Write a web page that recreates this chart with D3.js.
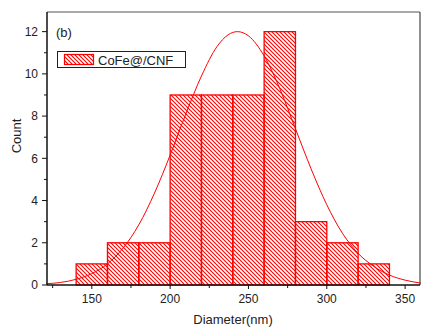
<!DOCTYPE html>
<html>
<head>
<meta charset="utf-8">
<script src="https://cdn.jsdelivr.net/npm/d3@7"></script>
<style>
  body { margin: 0; background: #fff; }
  text { font-family: "Liberation Sans", Arial, sans-serif; fill: #222; }
</style>
</head>
<body>
<div id="container"></div>
<script>
// histogram bins (nm) and counts
const binStarts = [140, 160, 180, 200, 220, 240, 260, 280, 300, 320];
const binWidth = 20;
const counts = [1, 2, 2, 9, 9, 9, 12, 3, 2, 1];

// fitted curve
const curveX = [121, 130, 140, 150, 160, 170, 180, 190, 200, 210, 220, 230, 237, 243, 250, 260, 270, 280, 290, 300, 310, 320, 330, 340, 350, 360];
const curveY = [0.06, 0.12, 0.27, 0.54, 1.0, 1.75, 2.85, 4.35, 6.15, 8.1, 9.9, 11.3, 11.85, 12.0, 11.8, 10.85, 9.3, 7.4, 5.5, 3.8, 2.45, 1.5, 0.88, 0.47, 0.23, 0.09];

const xTicks = [150, 200, 250, 300, 350];
const xMinor = [125, 175, 225, 275, 325];
const yTicks = [0, 2, 4, 6, 8, 10, 12];
const yMinor = [1, 3, 5, 7, 9, 11];

const W = 422, H = 330;
const margin = { left: 47, top: 12, right: 2, bottom: 45 };
const red = '#ff0000';

const svg = d3.select('#container').append('svg')
  .attr('width', W).attr('height', H);

// hatch pattern (\\\)
const defs = svg.append('defs');
const pat = defs.append('pattern')
  .attr('id', 'hatch')
  .attr('patternUnits', 'userSpaceOnUse')
  .attr('width', 4).attr('height', 4);
pat.append('path')
  .attr('d', 'M-1,-1L5,5M-1,3L1,5M3,-1L5,1')
  .attr('stroke', red).attr('stroke-width', 1.1);

const x = d3.scaleLinear().domain([121.4, 359.5]).range([margin.left, W - margin.right]);
const y = d3.scaleLinear().domain([0, 12.93]).range([H - margin.bottom, margin.top]);

const g = svg.append('g');

// bars
g.selectAll('.bar')
  .data(binStarts)
  .join('rect')
  .attr('class', 'bar')
  .attr('x', d => x(d))
  .attr('width', d => x(d + binWidth) - x(d))
  .attr('y', (d, i) => y(counts[i]))
  .attr('height', (d, i) => y(0) - y(counts[i]))
  .attr('fill', 'url(#hatch)')
  .attr('stroke', red)
  .attr('stroke-width', 1.3);

// fit curve
const pts = curveX.map((v, i) => [v, curveY[i]]);
g.append('path')
  .datum(pts)
  .attr('fill', 'none')
  .attr('stroke', red)
  .attr('stroke-width', 1)
  .attr('d', d3.line().x(d => x(d[0])).y(d => y(d[1])).curve(d3.curveMonotoneX));

// frame
svg.append('line')
  .attr('x1', margin.left).attr('x2', W - margin.right)
  .attr('y1', margin.top).attr('y2', margin.top)
  .attr('stroke', '#555').attr('stroke-width', 1);
svg.append('line')
  .attr('x1', W - margin.right).attr('x2', W - margin.right)
  .attr('y1', margin.top).attr('y2', H - margin.bottom)
  .attr('stroke', '#222').attr('stroke-width', 1);

// y axis
const yAxis = svg.append('g').attr('transform', `translate(${margin.left},0)`);
yAxis.append('line')
  .attr('x1', 0).attr('x2', 0).attr('y1', margin.top).attr('y2', H - margin.bottom)
  .attr('stroke', '#111').attr('stroke-width', 1.5);
yAxis.selectAll('.ymaj').data(yTicks).join('line')
  .attr('x1', -5).attr('x2', 0).attr('y1', d => y(d)).attr('y2', d => y(d))
  .attr('stroke', '#111').attr('stroke-width', 1);
yAxis.selectAll('.ymin').data(yMinor).join('line')
  .attr('x1', -3).attr('x2', 0).attr('y1', d => y(d)).attr('y2', d => y(d))
  .attr('stroke', '#111').attr('stroke-width', 1);
yAxis.selectAll('.ylab').data(yTicks).join('text')
  .attr('x', -9).attr('y', d => y(d)).attr('dy', '0.36em')
  .attr('text-anchor', 'end').attr('font-size', 12)
  .text(d => d);

// x axis
const xAxis = svg.append('g').attr('transform', `translate(0,${H - margin.bottom})`);
xAxis.append('line')
  .attr('x1', margin.left).attr('x2', W - margin.right).attr('y1', 0).attr('y2', 0)
  .attr('stroke', '#111').attr('stroke-width', 1.5);
xAxis.selectAll('.xmaj').data(xTicks).join('line')
  .attr('x1', d => x(d)).attr('x2', d => x(d)).attr('y1', 0).attr('y2', 4)
  .attr('stroke', '#111').attr('stroke-width', 1);
xAxis.selectAll('.xmin').data(xMinor).join('line')
  .attr('x1', d => x(d)).attr('x2', d => x(d)).attr('y1', 0).attr('y2', 3)
  .attr('stroke', '#111').attr('stroke-width', 1);
xAxis.selectAll('.xlab').data(xTicks).join('text')
  .attr('x', d => x(d)).attr('y', 18)
  .attr('text-anchor', 'middle').attr('font-size', 12)
  .text(d => d);

// axis titles
svg.append('text')
  .attr('x', 233).attr('y', 324)
  .attr('text-anchor', 'middle').attr('font-size', 13)
  .text('Diameter(nm)');
svg.append('text')
  .attr('transform', 'translate(21,136) rotate(-90)')
  .attr('text-anchor', 'middle').attr('font-size', 13)
  .text('Count');

// panel tag
svg.append('text')
  .attr('x', 56).attr('y', 37).attr('font-size', 13)
  .text('(b)');

// legend
const leg = svg.append('g');
leg.append('rect')
  .attr('x', 57.5).attr('y', 51.5).attr('width', 128).attr('height', 16)
  .attr('fill', '#fff').attr('stroke', '#222').attr('stroke-width', 1);
leg.append('rect')
  .attr('x', 64.5).attr('y', 54.5).attr('width', 29).attr('height', 10)
  .attr('fill', 'url(#hatch)').attr('stroke', red).attr('stroke-width', 1.2);
leg.append('text')
  .attr('x', 98).attr('y', 64.5).attr('font-size', 13)
  .text('CoFe@/CNF');
</script>
</body>
</html>
